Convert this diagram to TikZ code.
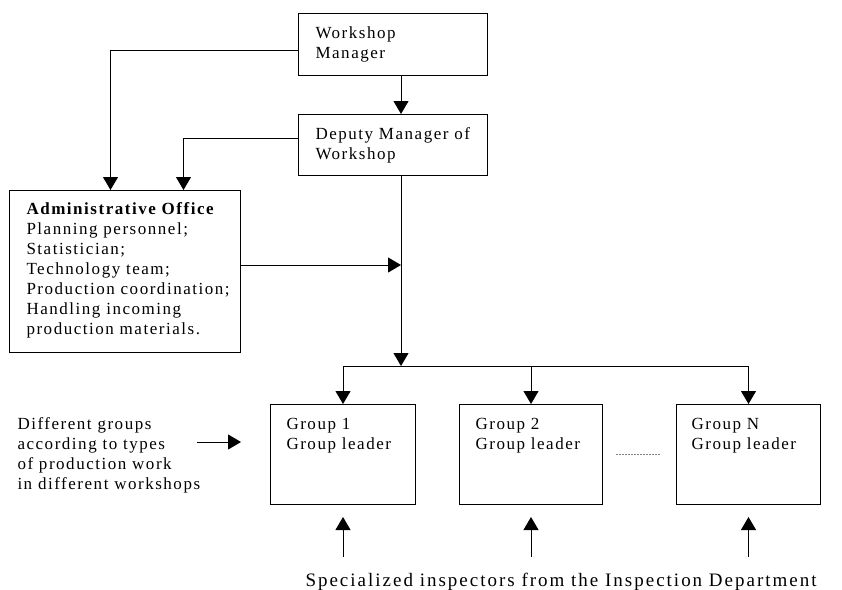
\documentclass[tikz,border=0pt]{standalone}
\usepackage{fontspec}
\setmainfont{Liberation Serif}[LetterSpace=9]
\usepackage{tikz}
\usetikzlibrary{arrows.meta,calc}

\begin{document}
\begin{tikzpicture}[x=1pt, y=-1pt, line width=1pt,
    >={Triangle[length=13pt, width=15pt]},
    box/.style={draw, inner sep=0pt, anchor=north west},
    txt/.style={anchor=north west, align=left, inner sep=0pt,
        font=\fontsize{17}{20}\selectfont},
    dots/.style={gray, line width=1.3pt, dash pattern=on 2pt off 1pt}]

    %% Background
    \useasboundingbox (0,0) rectangle (842,589);

    % Managers
    \node[box, minimum width=189pt, minimum height=62pt] (wm) at (298,13) {};
    \node[txt] (wmtxt) at (315,26) {Workshop\\Manager};
    \node[box, minimum width=189pt, minimum height=61pt] (dm) at (298,114) {};
    \node[txt] (dmtxt) at (315,127) {Deputy Manager of\\Workshop};

    % Administrative office
    \node[box, minimum width=231pt, minimum height=162pt] (admin) at (9,190) {};
    \node[txt] (admintxt) at (26,202) {\textbf{Administrative Office}\\
        Planning personnel;\\Statistician;\\Technology team;\\
        Production coordination;\\Handling incoming\\production materials.};

    % Groups
    \node[box, minimum width=145pt, minimum height=100pt] (g1) at (270,404) {};
    \node[txt] (g1txt) at (286,417.5) {Group 1\\Group leader};
    \node[box, minimum width=143pt, minimum height=100pt] (g2) at (459,404) {};
    \node[txt] (g2txt) at (475,417.5) {Group 2\\Group leader};
    \node[box, minimum width=144pt, minimum height=100pt] (gN) at (676,404) {};
    \node[txt] (gNtxt) at (691,417.5) {Group N\\Group leader};

    \node[txt] (kinds) at (17,417.5) {Different groups\\according to types\\
        of production work\\in different workshops};
    \node[txt, font=\fontsize{19}{22}\selectfont\addfontfeatures{LetterSpace=10.5}]
        (insp) at (305,572.5)
        {Specialized inspectors from the Inspection Department};

    % Main line
    \coordinate (spine) at (401,265);
    \coordinate (bar) at (401,366);
    \draw[->] (wm.south -| spine) -- (dm.north -| spine);
    \draw[->] (dm.south -| spine) -- (bar);
    \draw[->] (admin.east |- spine) -- (spine);

    % Lines to the office
    \draw[->] ([yshift=-6pt]wm.west) -| ([xshift=-14.5pt]admin.north);
    \draw[->] ([yshift=6.5pt]dm.west) -| ([xshift=58.5pt]admin.north);

    % Lines to the groups
    \draw (g1.north |- bar) -- (gN.north |- bar);
    \foreach \g in {g1,g2,gN} {
        \draw[->] (\g.north |- bar) -- (\g.north);
        \coordinate (\g-in) at ([yshift=-52pt]\g.south);
        \coordinate (\g-tip) at ([yshift=-12pt]\g.south);
        \draw[->] (\g-in) -- (\g-tip);
    }

    \coordinate (kinds-out) at (197,442);
    \coordinate (kinds-tip) at (241,442);
    \draw[->] (kinds-out) -- (kinds-tip);

    \draw[dots] ([xshift=13pt]g2.east) -- ([xshift=-15pt]gN.west);

\end{tikzpicture}
\end{document}
